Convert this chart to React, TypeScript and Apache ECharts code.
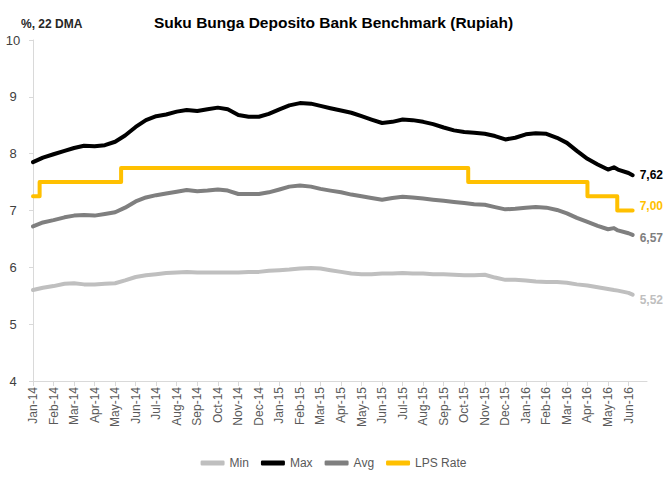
import React, { useEffect, useRef } from "react";
import * as echarts from "echarts";

const monthLabels = [
  "Jan-14", "Feb-14", "Mar-14", "Apr-14", "May-14", "Jun-14", "Jul-14", "Aug-14", "Sep-14", "Oct-14", "Nov-14", "Dec-14",
  "Jan-15", "Feb-15", "Mar-15", "Apr-15", "May-15", "Jun-15", "Jul-15", "Aug-15", "Sep-15", "Oct-15", "Nov-15", "Dec-15",
  "Jan-16", "Feb-16", "Mar-16", "Apr-16", "May-16", "Jun-16",
];

const dates = [
  "2014-01-01", "2014-01-16", "2014-02-01", "2014-02-16", "2014-03-01", "2014-03-16", "2014-04-01", "2014-04-16",
  "2014-05-01", "2014-05-16", "2014-06-01", "2014-06-16", "2014-07-01", "2014-07-16", "2014-08-01", "2014-08-16",
  "2014-09-01", "2014-09-16", "2014-10-01", "2014-10-16", "2014-11-01", "2014-11-16", "2014-12-01", "2014-12-16",
  "2015-01-01", "2015-01-16", "2015-02-01", "2015-02-16", "2015-03-01", "2015-03-16", "2015-04-01", "2015-04-16",
  "2015-05-01", "2015-05-16", "2015-06-01", "2015-06-16", "2015-07-01", "2015-07-16", "2015-08-01", "2015-08-16",
  "2015-09-01", "2015-09-16", "2015-10-01", "2015-10-16", "2015-11-01", "2015-11-16", "2015-12-01", "2015-12-16",
  "2016-01-01", "2016-01-16", "2016-02-01", "2016-02-16", "2016-03-01", "2016-03-16", "2016-04-01", "2016-04-16",
  "2016-05-01", "2016-05-10", "2016-05-16", "2016-06-01", "2016-06-07",
];

const maxRate = [
  7.85, 7.93, 7.99, 8.05, 8.10, 8.14, 8.13, 8.15, 8.21, 8.32, 8.47, 8.59, 8.66, 8.69, 8.74, 8.77,
  8.75, 8.78, 8.81, 8.78, 8.68, 8.65, 8.65, 8.70,
  8.78, 8.85, 8.89, 8.88, 8.84, 8.80, 8.76, 8.72, 8.66, 8.60, 8.54, 8.56, 8.60, 8.59, 8.56, 8.52,
  8.46, 8.41, 8.38, 8.37, 8.35, 8.31, 8.25, 8.28,
  8.34, 8.36, 8.35, 8.28, 8.19, 8.05, 7.91, 7.81, 7.72, 7.76, 7.72, 7.66, 7.62,
];

const avgRate = [
  6.72, 6.79, 6.83, 6.88, 6.91, 6.92, 6.91, 6.94, 6.97, 7.05, 7.16, 7.23, 7.27, 7.30, 7.33, 7.36,
  7.34, 7.35, 7.37, 7.35, 7.29, 7.29, 7.29, 7.32,
  7.37, 7.42, 7.44, 7.42, 7.38, 7.35, 7.32, 7.28, 7.25, 7.22, 7.19, 7.22, 7.24, 7.23, 7.21, 7.19,
  7.17, 7.15, 7.13, 7.11, 7.10, 7.06, 7.02, 7.03,
  7.05, 7.06, 7.05, 7.01, 6.95, 6.87, 6.80, 6.73, 6.67, 6.69, 6.65, 6.60, 6.57,
];

const minRate = [
  5.60, 5.64, 5.67, 5.71, 5.72, 5.70, 5.70, 5.71, 5.72, 5.77, 5.83, 5.86, 5.88, 5.90, 5.91, 5.92,
  5.91, 5.91, 5.91, 5.91, 5.91, 5.92, 5.92, 5.94,
  5.95, 5.96, 5.98, 5.99, 5.98, 5.95, 5.92, 5.89, 5.88, 5.88, 5.89, 5.89, 5.90, 5.89, 5.89, 5.88,
  5.88, 5.87, 5.86, 5.86, 5.87, 5.82, 5.78, 5.78,
  5.77, 5.75, 5.74, 5.74, 5.73, 5.70, 5.68, 5.65, 5.62, 5.60, 5.59, 5.55, 5.52,
];

const lpsDates = ["2014-01-01", "2014-01-11", "2014-05-10", "2015-10-07", "2016-04-01", "2016-05-15", "2016-06-07"];
const lpsRate = [7.25, 7.5, 7.75, 7.5, 7.25, 7.0, 7.0];

const seriesNames = ["Min", "Max", "Avg", "LPS Rate"];
const endLabelTexts = ["5,52", "7,62", "6,57", "7,00"];

const FONT = "'Liberation Sans', Arial, sans-serif";

function monthPos(d: string): number {
  const [y, m, day] = d.split("-").map(Number);
  const dim = new Date(y, m, 0).getDate();
  return (y - 2014) * 12 + (m - 1) + (day - 1) / dim;
}

export default function App() {
  const ref = useRef<HTMLDivElement>(null);

  useEffect(() => {
    if (!ref.current) return;
    const chart = echarts.init(ref.current, undefined, { renderer: "svg" });
    const xs = dates.map(monthPos);
    const pair = (vals: number[]) => vals.map((v, i) => [xs[i], v]);
    const lpsData = lpsRate.map((v, i) => [monthPos(lpsDates[i]), v]);

    const colors = ["#bfbfbf", "#000000", "#7f7f7f", "#ffc000"];
    const datasets = [pair(minRate), pair(maxRate), pair(avgRate), lpsData];
    const labelOffsets = [[0, 5], [0, 0], [0, 3], [0, -5]];

    chart.setOption({
      animation: false,
      textStyle: { fontFamily: FONT },
      title: [
        {
          text: "Suku Bunga Deposito Bank Benchmark (Rupiah)",
          left: "center",
          top: 9,
          textStyle: { fontSize: 15.5, fontWeight: "bold", color: "#000000", fontFamily: FONT },
        },
        {
          text: "%, 22 DMA",
          left: 16,
          top: 13,
          textStyle: { fontSize: 12, fontWeight: "bold", color: "#262626", fontFamily: FONT },
        },
      ],
      legend: {
        data: seriesNames,
        bottom: 3,
        left: "center",
        icon: "roundRect",
        itemWidth: 24,
        itemHeight: 5,
        itemGap: 12,
        textStyle: { fontSize: 12, color: "#595959", fontFamily: FONT },
      },
      grid: { left: 33, right: 20, top: 40, bottom: 96, containLabel: false },
      xAxis: {
        type: "value",
        min: 0,
        max: 29.9,
        interval: 1,
        splitLine: { show: false },
        axisLine: { show: true, lineStyle: { color: "#d9d9d9", width: 1 } },
        axisTick: { show: true, length: 5, lineStyle: { color: "#d9d9d9" } },
        axisLabel: {
          rotate: 90,
          margin: 6,
          fontSize: 12,
          color: "#595959",
          fontFamily: FONT,
          showMaxLabel: false,
          formatter: (v: number) => (Number.isInteger(v) && monthLabels[v] ? monthLabels[v] : ""),
        },
      },
      yAxis: {
        type: "value",
        min: 4,
        max: 10,
        interval: 1,
        splitLine: { show: false },
        axisLine: { show: true, lineStyle: { color: "#d9d9d9", width: 1 } },
        axisTick: { show: true, length: 4, lineStyle: { color: "#d9d9d9" } },
        axisLabel: { fontSize: 13, color: "#404040", align: "center", margin: 20, fontFamily: FONT },
      },
      series: seriesNames.map((name, i) => ({
        name,
        type: "line",
        data: datasets[i],
        step: name === "LPS Rate" ? "end" : undefined,
        symbol: "none",
        color: colors[i],
        itemStyle: { color: colors[i] },
        lineStyle: { color: colors[i], width: 4, join: "round", cap: "round" },
        z: name === "LPS Rate" ? 3 : 2,
        endLabel: {
          show: true,
          formatter: endLabelTexts[i],
          color: colors[i],
          fontWeight: "bold",
          fontSize: 12,
          distance: 7,
          offset: labelOffsets[i],
          fontFamily: FONT,
        },
      })),
    });

    return () => chart.dispose();
  }, []);

  return (
    <div
      ref={ref}
      style={{ position: "fixed", left: 0, top: 0, width: 667, height: 477, background: "#ffffff" }}
    />
  );
}
